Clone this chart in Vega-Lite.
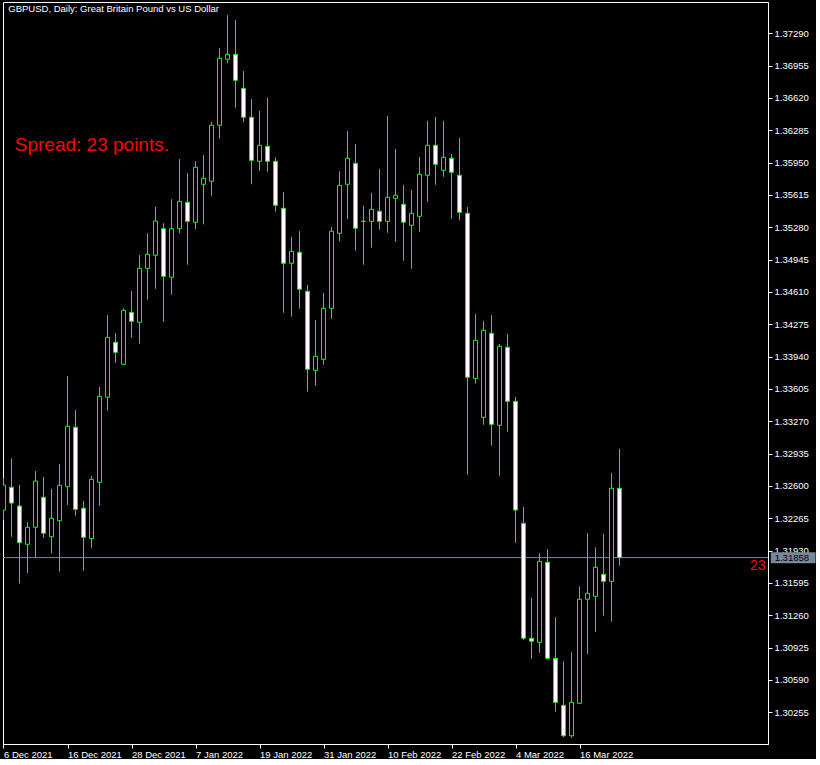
{
  "$schema": "https://vega.github.io/schema/vega-lite/v6.json",
  "width": 765,
  "height": 742,
  "padding": {"left": 2, "top": 2, "right": 0, "bottom": 0},
  "background": "#000000",
  "config": {
    "view": {"stroke": "#ffffff", "strokeWidth": 1, "fill": "#000000"},
    "font": "Liberation Sans",
    "axis": {"labelOverlap": false, "labelFlush": false, "grid": false},
    "scale": {"continuousPadding": 0}
  },
  "datasets": {
    "bars": [
      {"i":0,"d":"6 Dec 2021","o":1.32351,"h":1.32682,"l":1.32247,"c":1.32610},
      {"i":1,"d":"7 Dec 2021","o":1.32586,"h":1.32887,"l":1.32074,"c":1.32423},
      {"i":2,"d":"8 Dec 2021","o":1.32392,"h":1.32610,"l":1.31591,"c":1.32012},
      {"i":3,"d":"9 Dec 2021","o":1.31996,"h":1.32227,"l":1.31695,"c":1.32172},
      {"i":4,"d":"10 Dec 2021","o":1.32172,"h":1.32755,"l":1.31861,"c":1.32651},
      {"i":5,"d":"13 Dec 2021","o":1.32483,"h":1.32693,"l":1.32064,"c":1.32110},
      {"i":6,"d":"14 Dec 2021","o":1.32074,"h":1.32569,"l":1.31902,"c":1.32265},
      {"i":7,"d":"15 Dec 2021","o":1.32240,"h":1.32828,"l":1.31712,"c":1.32607},
      {"i":8,"d":"16 Dec 2021","o":1.32592,"h":1.33739,"l":1.32403,"c":1.33218},
      {"i":9,"d":"17 Dec 2021","o":1.33208,"h":1.33387,"l":1.32292,"c":1.32358},
      {"i":10,"d":"20 Dec 2021","o":1.32369,"h":1.32444,"l":1.31722,"c":1.32068},
      {"i":11,"d":"21 Dec 2021","o":1.32054,"h":1.32703,"l":1.31960,"c":1.32669},
      {"i":12,"d":"22 Dec 2021","o":1.32638,"h":1.33625,"l":1.32396,"c":1.33529},
      {"i":13,"d":"23 Dec 2021","o":1.33519,"h":1.34371,"l":1.33380,"c":1.34140},
      {"i":14,"d":"24 Dec 2021","o":1.34089,"h":1.34182,"l":1.33877,"c":1.33985},
      {"i":15,"d":"27 Dec 2021","o":1.33861,"h":1.34441,"l":1.33855,"c":1.34420},
      {"i":16,"d":"28 Dec 2021","o":1.34399,"h":1.34620,"l":1.34136,"c":1.34306},
      {"i":17,"d":"29 Dec 2021","o":1.34296,"h":1.34993,"l":1.34074,"c":1.34855},
      {"i":18,"d":"30 Dec 2021","o":1.34855,"h":1.35218,"l":1.34530,"c":1.35000},
      {"i":19,"d":"31 Dec 2021","o":1.34990,"h":1.35493,"l":1.34644,"c":1.35345},
      {"i":20,"d":"3 Jan 2022","o":1.35265,"h":1.35321,"l":1.34302,"c":1.34772},
      {"i":21,"d":"4 Jan 2022","o":1.34762,"h":1.35570,"l":1.34582,"c":1.35265},
      {"i":22,"d":"5 Jan 2022","o":1.35265,"h":1.35985,"l":1.35218,"c":1.35549},
      {"i":23,"d":"6 Jan 2022","o":1.35539,"h":1.35840,"l":1.34893,"c":1.35342},
      {"i":24,"d":"7 Jan 2022","o":1.35332,"h":1.35964,"l":1.35259,"c":1.35902},
      {"i":25,"d":"10 Jan 2022","o":1.35726,"h":1.36029,"l":1.35311,"c":1.35788},
      {"i":26,"d":"11 Jan 2022","o":1.35757,"h":1.36374,"l":1.35607,"c":1.36337},
      {"i":27,"d":"12 Jan 2022","o":1.36337,"h":1.37135,"l":1.36198,"c":1.37031},
      {"i":28,"d":"13 Jan 2022","o":1.37021,"h":1.37480,"l":1.36979,"c":1.37072},
      {"i":29,"d":"14 Jan 2022","o":1.37072,"h":1.37428,"l":1.36519,"c":1.36803},
      {"i":30,"d":"17 Jan 2022","o":1.36720,"h":1.36899,"l":1.36368,"c":1.36420},
      {"i":31,"d":"18 Jan 2022","o":1.36420,"h":1.36609,"l":1.35726,"c":1.35974},
      {"i":32,"d":"19 Jan 2022","o":1.35964,"h":1.36488,"l":1.35866,"c":1.36130},
      {"i":33,"d":"20 Jan 2022","o":1.36119,"h":1.36623,"l":1.35856,"c":1.35964},
      {"i":34,"d":"21 Jan 2022","o":1.35964,"h":1.36005,"l":1.35442,"c":1.35508},
      {"i":35,"d":"24 Jan 2022","o":1.35477,"h":1.35646,"l":1.34395,"c":1.34907},
      {"i":36,"d":"25 Jan 2022","o":1.34907,"h":1.35180,"l":1.34354,"c":1.35031},
      {"i":37,"d":"26 Jan 2022","o":1.35021,"h":1.35242,"l":1.34437,"c":1.34638},
      {"i":38,"d":"27 Jan 2022","o":1.34617,"h":1.34682,"l":1.33577,"c":1.33809},
      {"i":39,"d":"28 Jan 2022","o":1.33798,"h":1.34320,"l":1.33639,"c":1.33943},
      {"i":40,"d":"31 Jan 2022","o":1.33912,"h":1.34599,"l":1.33856,"c":1.34441},
      {"i":41,"d":"1 Feb 2022","o":1.34441,"h":1.35283,"l":1.34333,"c":1.35239},
      {"i":42,"d":"2 Feb 2022","o":1.35218,"h":1.35860,"l":1.35135,"c":1.35715},
      {"i":43,"d":"3 Feb 2022","o":1.35726,"h":1.36278,"l":1.35366,"c":1.35995},
      {"i":44,"d":"4 Feb 2022","o":1.35943,"h":1.36143,"l":1.35038,"c":1.35270},
      {"i":45,"d":"7 Feb 2022","o":1.35343,"h":1.35501,"l":1.34893,"c":1.35341},
      {"i":46,"d":"8 Feb 2022","o":1.35342,"h":1.35635,"l":1.35069,"c":1.35466},
      {"i":47,"d":"9 Feb 2022","o":1.35446,"h":1.35884,"l":1.35255,"c":1.35342},
      {"i":48,"d":"10 Feb 2022","o":1.35342,"h":1.36433,"l":1.35224,"c":1.35591},
      {"i":49,"d":"11 Feb 2022","o":1.35580,"h":1.36091,"l":1.35131,"c":1.35612},
      {"i":50,"d":"14 Feb 2022","o":1.35518,"h":1.35718,"l":1.34934,"c":1.35332},
      {"i":51,"d":"15 Feb 2022","o":1.35301,"h":1.35666,"l":1.34851,"c":1.35425},
      {"i":52,"d":"16 Feb 2022","o":1.35394,"h":1.36008,"l":1.35234,"c":1.35829},
      {"i":53,"d":"17 Feb 2022","o":1.35819,"h":1.36381,"l":1.35545,"c":1.36130},
      {"i":54,"d":"18 Feb 2022","o":1.36130,"h":1.36423,"l":1.35721,"c":1.35933},
      {"i":55,"d":"21 Feb 2022","o":1.35871,"h":1.36381,"l":1.35804,"c":1.36005},
      {"i":56,"d":"22 Feb 2022","o":1.35995,"h":1.36039,"l":1.35369,"c":1.35850},
      {"i":57,"d":"23 Feb 2022","o":1.35819,"h":1.36205,"l":1.35352,"c":1.35435},
      {"i":58,"d":"24 Feb 2022","o":1.35425,"h":1.35490,"l":1.32717,"c":1.33726},
      {"i":59,"d":"25 Feb 2022","o":1.33715,"h":1.34382,"l":1.33660,"c":1.34109},
      {"i":60,"d":"28 Feb 2022","o":1.33311,"h":1.34309,"l":1.33235,"c":1.34213},
      {"i":61,"d":"1 Mar 2022","o":1.34182,"h":1.34371,"l":1.33017,"c":1.33239},
      {"i":62,"d":"2 Mar 2022","o":1.33229,"h":1.34071,"l":1.32706,"c":1.34047},
      {"i":63,"d":"3 Mar 2022","o":1.34037,"h":1.34174,"l":1.33162,"c":1.33477},
      {"i":64,"d":"4 Mar 2022","o":1.33477,"h":1.33522,"l":1.32012,"c":1.32351},
      {"i":65,"d":"7 Mar 2022","o":1.32213,"h":1.32385,"l":1.31004,"c":1.31022},
      {"i":66,"d":"8 Mar 2022","o":1.31022,"h":1.31442,"l":1.30810,"c":1.30991},
      {"i":67,"d":"9 Mar 2022","o":1.30980,"h":1.31902,"l":1.30872,"c":1.31819},
      {"i":68,"d":"10 Mar 2022","o":1.31809,"h":1.31944,"l":1.30810,"c":1.30814},
      {"i":69,"d":"11 Mar 2022","o":1.30814,"h":1.31239,"l":1.30261,"c":1.30358},
      {"i":70,"d":"14 Mar 2022","o":1.30327,"h":1.30783,"l":1.29996,"c":1.30012},
      {"i":71,"d":"15 Mar 2022","o":1.30012,"h":1.30877,"l":1.29992,"c":1.30358},
      {"i":72,"d":"16 Mar 2022","o":1.30348,"h":1.31560,"l":1.30345,"c":1.31426},
      {"i":73,"d":"17 Mar 2022","o":1.31426,"h":1.32110,"l":1.30859,"c":1.31488},
      {"i":74,"d":"18 Mar 2022","o":1.31457,"h":1.31964,"l":1.31087,"c":1.31757},
      {"i":75,"d":"21 Mar 2022","o":1.31685,"h":1.32105,"l":1.31256,"c":1.31612},
      {"i":76,"d":"22 Mar 2022","o":1.31612,"h":1.32734,"l":1.31194,"c":1.32576},
      {"i":77,"d":"23 Mar 2022","o":1.32576,"h":1.32983,"l":1.31774,"c":1.31858}
    ],
    "bid": [{"price": 1.31858, "label": "1.31858", "spread": "23", "title": "GBPUSD, Daily:  Great Britain Pound vs US Dollar", "note": "Spread: 23 points."}]
  },
  "layer": [
    {
      "data": {"name": "bid"},
      "mark": {"type": "rule", "color": "#778899", "strokeWidth": 1},
      "encoding": {
        "y": {
          "field": "price", "type": "quantitative",
          "scale": {"domain": [1.299265, 1.376143], "nice": false, "zero": false, "padding": 0},
          "axis": {
            "orient": "right",
            "values": [1.30255,1.30590,1.30925,1.31260,1.31595,1.31930,1.32265,1.32600,1.32935,1.33270,1.33605,1.33940,1.34275,1.34610,1.34945,1.35280,1.35615,1.35950,1.36285,1.36620,1.36955,1.37290],
            "tickCount": 40,
            "format": ".5f",
            "title": null,
            "grid": false,
            "domainColor": "#ffffff",
            "tickColor": "#ffffff",
            "tickSize": 4,
            "labelColor": "#ffffff",
            "labelFont": "Liberation Sans",
            "labelFontSize": 9.5,
            "labelPadding": 2,
            "labelAlign": "left",
            "labelBaseline": "middle",
            "labelOverlap": false,
            "labelFlush": false,
            "labelBound": false
          }
        }
      }
    },
    {
      "data": {"name": "bars"},
      "mark": {"type": "rule", "color": "#00ff00", "strokeWidth": 1, "clip": true},
      "encoding": {
        "x": {
          "field": "i", "type": "quantitative",
          "scale": {"domain": [-0.0625, 95.5625], "nice": false, "zero": false, "padding": 0},
          "axis": {
            "orient": "bottom",
            "values": [0, 8, 16, 24, 32, 40, 48, 56, 64, 72],
            "tickCount": 40,
            "labelExpr": "['6 Dec 2021','16 Dec 2021','28 Dec 2021','7 Jan 2022','19 Jan 2022','31 Jan 2022','10 Feb 2022','22 Feb 2022','4 Mar 2022','16 Mar 2022'][round(datum.value / 8)]",
            "title": null,
            "grid": false,
            "domainColor": "#ffffff",
            "tickColor": "#ffffff",
            "tickSize": 4,
            "labelColor": "#ffffff",
            "labelFont": "Liberation Sans",
            "labelFontSize": 9.5,
            "labelAlign": "left",
            "labelBaseline": "top",
            "labelPadding": 1,
            "labelOffset": 0,
            "labelOverlap": false,
            "labelFlush": false
          }
        },
        "y": {"field": "l", "type": "quantitative", "scale": {"domain": [1.299265, 1.376143], "nice": false, "zero": false, "padding": 0}},
        "y2": {"field": "h"}
      }
    },
    {
      "data": {"name": "bars"},
      "mark": {"type": "bar", "width": 4, "stroke": "#00ff00", "strokeWidth": 1, "clip": true},
      "encoding": {
        "x": {"field": "i", "type": "quantitative", "scale": {"domain": [-0.0625, 95.5625], "nice": false, "zero": false, "padding": 0}},
        "y": {"field": "o", "type": "quantitative", "scale": {"domain": [1.299265, 1.376143], "nice": false, "zero": false, "padding": 0}},
        "y2": {"field": "c"},
        "fill": {"condition": {"test": "datum.c <= datum.o", "value": "#ffffff"}, "value": "#000000"}
      }
    },
    {
      "data": {"name": "bid"},
      "mark": {"type": "text", "color": "#ffffff", "font": "Liberation Sans", "fontSize": 9.5, "align": "left", "baseline": "middle"},
      "encoding": {
        "x": {"datum": 0.6, "type": "quantitative"},
        "y": {"datum": 1.37539, "type": "quantitative"},
        "text": {"field": "title"}
      }
    },
    {
      "data": {"name": "bid"},
      "mark": {"type": "text", "color": "#ff0000", "font": "Liberation Sans", "fontSize": 19, "align": "left", "baseline": "middle"},
      "encoding": {
        "x": {"datum": 1.41, "type": "quantitative"},
        "y": {"datum": 1.36133, "type": "quantitative"},
        "text": {"field": "note"}
      }
    },
    {
      "data": {"name": "bid"},
      "mark": {"type": "rect", "fill": "#778899", "clip": false},
      "encoding": {
        "x": {"datum": 95.91, "type": "quantitative"},
        "x2": {"datum": 101.5},
        "y": {"datum": 1.31913, "type": "quantitative"},
        "y2": {"datum": 1.31799}
      }
    },
    {
      "data": {"name": "bid"},
      "mark": {"type": "text", "color": "#000000", "font": "Liberation Sans", "fontSize": 9.5, "align": "left", "baseline": "middle"},
      "encoding": {
        "x": {"datum": 96.4, "type": "quantitative"},
        "y": {"field": "price", "type": "quantitative"},
        "text": {"field": "label"}
      }
    },
    {
      "data": {"name": "bid"},
      "mark": {"type": "text", "color": "#ff0000", "font": "Liberation Sans", "fontSize": 14, "align": "right", "baseline": "middle"},
      "encoding": {
        "x": {"datum": 95.25, "type": "quantitative"},
        "y": {"datum": 1.31771, "type": "quantitative"},
        "text": {"field": "spread"}
      }
    }
  ]
}
